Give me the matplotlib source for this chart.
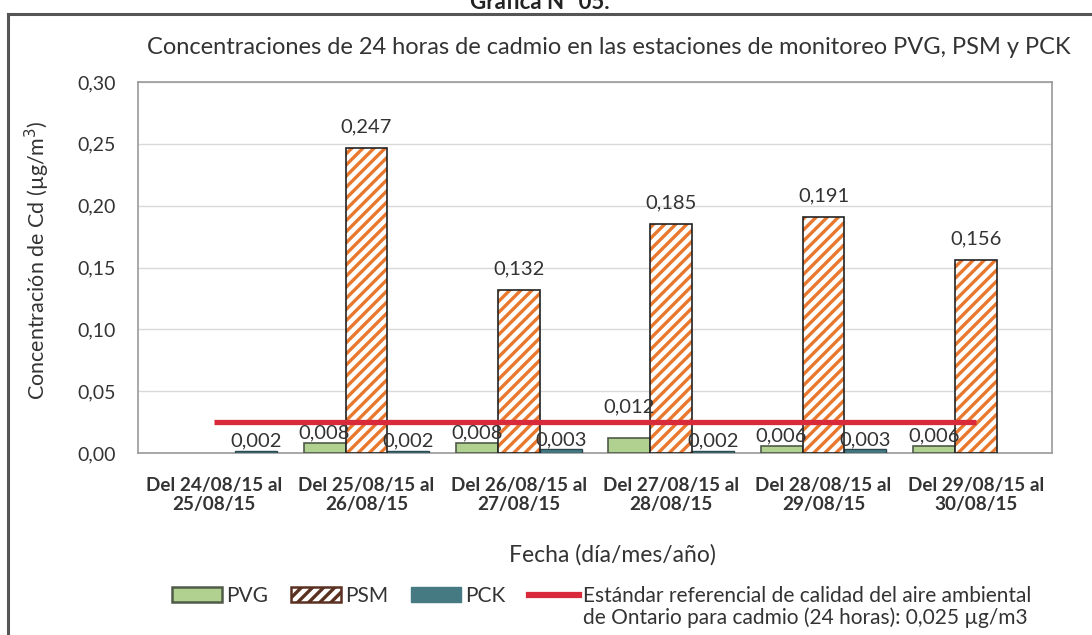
import numpy as np
import matplotlib
matplotlib.use("Agg")
import matplotlib.pyplot as plt
from matplotlib.patches import Patch
from matplotlib.lines import Line2D

plt.rcParams['font.family'] = ['Lato', 'DejaVu Sans']
plt.rcParams['hatch.linewidth'] = 2.4

categories = ["Del 24/08/15 al\n25/08/15", "Del 25/08/15 al\n26/08/15", "Del 26/08/15 al\n27/08/15",
              "Del 27/08/15 al\n28/08/15", "Del 28/08/15 al\n29/08/15", "Del 29/08/15 al\n30/08/15"]
pvg = [np.nan, 0.008, 0.008, 0.012, 0.006, 0.006]
psm = [np.nan, 0.247, 0.132, 0.185, 0.191, 0.156]
pck = [0.002, 0.002, 0.003, 0.002, 0.003, np.nan]
standard = [0.025] * 6
yticks = [0.00, 0.05, 0.10, 0.15, 0.20, 0.25, 0.30]

W, H = 1092, 635
fig = plt.figure(figsize=(W / 100, H / 100), dpi=100)
ax = fig.add_axes([138 / W, 1 - 453 / H, (1052 - 138) / W, (453 - 82) / H])

x = np.arange(len(categories))
bw = 0.275
txt = '#333333'

ax.bar(x - bw, pvg, bw, color='#b1d190', edgecolor='#4f5a48', linewidth=1.2, zorder=3)
ax.bar(x, psm, bw, color='white', edgecolor='#e8782e', hatch='///', linewidth=0, zorder=3)
ax.bar(x, psm, bw, color='none', edgecolor='#222222', linewidth=1.2, zorder=4)
ax.bar(x + bw, pck, bw, color='#467a82', edgecolor='#2c4a50', linewidth=1.0, zorder=3)
ax.plot(x, standard, color='#d92a3c', linewidth=3.8, zorder=5, solid_capstyle='butt')

def fmt(v):
    return f"{v:.3f}".replace('.', ',')

std = standard[0]
for xs, vals, off in [(x - bw, pvg, 1), (x, psm, 9), (x + bw, pck, 1)]:
    for xi, v in zip(xs, vals):
        if np.isnan(v):
            continue
        o = off
        # labels of bars reaching close to the reference line are lifted above it
        if 0.01 < v < std:
            o = 16.5
        ax.annotate(fmt(v), (xi, v), xytext=(0, o), textcoords='offset points',
                    ha='center', va='bottom', fontsize=14.5, color=txt, zorder=6)

ax.set_xlim(-0.5, len(categories) - 0.5)
ax.set_ylim(0, 0.30)
ax.set_yticks(yticks)
ax.set_yticklabels([f"{t:.2f}".replace('.', ',') for t in yticks], fontsize=14, color=txt)
ax.set_xticks(x)
ax.set_xticklabels(categories, fontsize=13.6, fontweight='bold', color=txt, linespacing=1.2)
ax.tick_params(axis='both', length=0)
ax.tick_params(axis='y', pad=16)
ax.tick_params(axis='x', pad=17)
ax.grid(axis='y', color='#d9d9d9', linewidth=1, zorder=0)
for s in ax.spines.values():
    s.set_color('#9a9a9a')
    s.set_linewidth(1.2)

ax.set_ylabel("Concentración de Cd (µg/m$^3$)", fontsize=15.5, color=txt)
ax.yaxis.set_label_coords((52 - 138) / (1052 - 138), 0.52)

fig.text(609 / W, 1 - 47 / H, "Concentraciones de 24 horas de cadmio en las estaciones de monitoreo PVG, PSM y PCK",
         ha='center', va='center', fontsize=17, color=txt)
fig.text(612 / W, 1 - 555 / H, "Fecha (día/mes/año)", ha='center', va='center', fontsize=16.5, color=txt)
fig.text(540 / W, 1 - 9 / H, "Gráfica N° 05.", ha='center', va='baseline', fontsize=16,
         fontweight='bold', color='#222222')

# outer frame
fig.add_artist(Line2D([8 / W, 8 / W], [1 - 14 / H, -0.05], transform=fig.transFigure,
                      color='#555555', linewidth=2.2))
fig.add_artist(Line2D([8 / W, 1.05], [1 - 14 / H, 1 - 14 / H], transform=fig.transFigure,
                      color='#555555', linewidth=2.2))

handles = [Patch(facecolor='#b1d190', edgecolor='#4f5a48', linewidth=1.8),
           Patch(facecolor='white', edgecolor='#5a3020', hatch='///', linewidth=1.8),
           Patch(facecolor='#467a82', edgecolor='#467a82'),
           Line2D([], [], color='#d92a3c', linewidth=4.5)]
labels = ["PVG", "PSM", "PCK", "Estándar referencial de calidad del aire ambiental"]
leg = fig.legend(handles, labels, ncol=4, loc='center left', bbox_to_anchor=(172 / W, 1 - 596 / H),
                 frameon=False, fontsize=15, handlelength=2.4, handleheight=0.72, handletextpad=0.2,
                 columnspacing=1.1, borderaxespad=0, borderpad=0, labelcolor=txt)

fig.canvas.draw()
bb = leg.get_texts()[3].get_window_extent()
fig.text(bb.x0 / W, 1 - 618 / H, "de Ontario para cadmio (24 horas): 0,025 µg/m3",
         ha='left', va='center', fontsize=15, color=txt)

fig.savefig("out.png", dpi=100)
